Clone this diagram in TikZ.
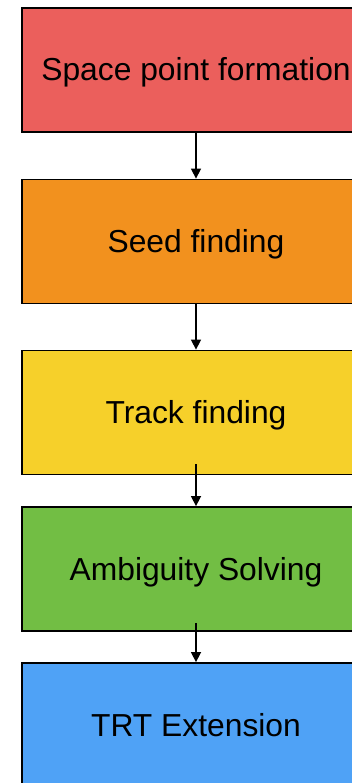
\documentclass[tikz,border=0pt]{standalone}
\usepackage{fontspec}
\setmainfont{Liberation Sans}
\usetikzlibrary{arrows.meta}
\definecolor{cred}{RGB}{235,95,92}
\definecolor{corange}{RGB}{242,145,30}
\definecolor{cyellow}{RGB}{246,208,42}
\definecolor{cgreen}{RGB}{114,190,68}
\definecolor{cblue}{RGB}{79,162,246}
\tikzset{
  stagebox/.style={draw=black, line width=1.8pt, rectangle, minimum width=348pt, minimum height=124pt, inner sep=0pt, text height=22pt, text depth=0pt, font=\fontsize{31.8}{36}\selectfont, text=black},
  flowarrow/.style={draw=black, line width=1.5pt, -{Triangle[width=10pt,length=10pt]}}
}
\begin{document}
\begin{tikzpicture}[x=1pt,y=-1pt]
\useasboundingbox (0,0) rectangle (352,783);
\clip (0,0) rectangle (352,783);
\fill[white] (0,0) rectangle (352,783);
\node[stagebox, fill=cred] (a) at (196,70) {Space point formation};
\node[stagebox, fill=corange] (b) at (196,241.5) {Seed finding};
\node[stagebox, fill=cyellow] (c) at (196,412.5) {Track finding};
\node[stagebox, fill=cgreen] (d) at (196,569) {Ambiguity Solving};
\node[stagebox, fill=cblue] (e) at (196,725) {TRT Extension};
\draw[flowarrow] (a.south) -- (b.north);
\draw[flowarrow] (b.south) -- (c.north);
\draw[flowarrow] ([yshift=11pt]c.south) -- (d.north);
\draw[flowarrow] ([yshift=9pt]d.south) -- (e.north);
\end{tikzpicture}
\end{document}
